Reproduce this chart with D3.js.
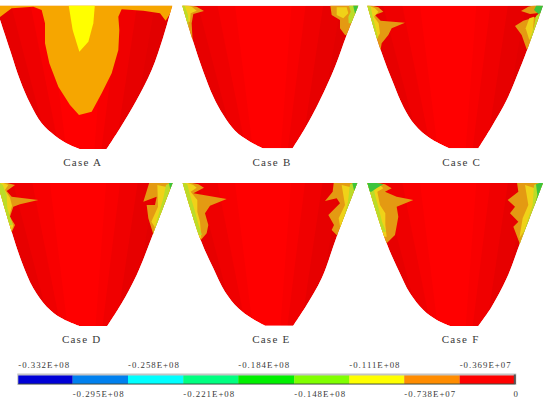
<!DOCTYPE html>
<html>
<head>
<meta charset="utf-8">
<script src="https://cdn.jsdelivr.net/npm/d3@7/dist/d3.min.js"></script>
<style>
html,body{margin:0;padding:0;background:#fff}
svg{display:block}
text{font-family:"Liberation Serif","DejaVu Serif",serif;fill:#3a3a3a}
</style>
</head>
<body>
<script>
// Contour levels of the stress field (Pa) and their colour bands
const levelValues = [-3.32e7,-2.95e7,-2.58e7,-2.21e7,-1.84e7,-1.48e7,-1.11e7,-7.38e6,-3.69e6,0];
const levelLabels = ["-0.332E+08","-0.295E+08","-0.258E+08","-0.221E+08","-0.184E+08","-0.148E+08","-0.111E+08","-0.738E+07","-0.369E+07","0"];
const bandColors = ["#0000d6","#0080ee","#00ffff","#00ff80","#00f000","#80ff00","#ffff00","#ff8c00","#ff0000"];

const caseNames = ["Case A","Case B","Case C","Case D","Case E","Case F"];

// Section outlines in mesh units: left flank down to the flat tip, right flank back up
const flanksLeft = [
  [[-14,17],[30,150],[60,240],[90,310],[125,370],[165,407],[210,435],[240,447]],
  [[7,17],[38,120],[70,215],[100,290],[130,345],[165,392],[210,425],[250,445]],
  [[22,17],[62,150],[100,250],[130,320],[165,375],[210,415],[268,445]],
  [[-8,24],[35,170],[65,260],[100,340],[140,395],[185,430],[237,453]],
  [[8,24],[62,195],[100,280],[135,350],[175,400],[215,430],[255,452]],
  [[22,24],[80,205],[115,285],[150,355],[190,405],[230,435],[270,453]]
];
const flanksRight = [
  [[320,447],[360,385],[410,300],[455,210],[490,110],[517,17]],
  [[338,445],[375,385],[420,300],[465,200],[500,105],[535,17]],
  [[355,445],[395,380],[440,300],[480,205],[505,140],[549,17]],
  [[322,453],[365,385],[410,300],[460,175],[518,24]],
  [[340,452],[380,390],[425,310],[470,185],[532,24]],
  [[355,453],[395,395],[440,310],[480,205],[549,24]]
];

// Mesh shading: [top start, top end, tip start, tip end, darkness] as fractions of section width
const shadeStrips = [
  [0,.09,.22,.3,.17],[.09,.2,.3,.36,.11],[.2,.3,.36,.4,.05],
  [.62,.7,.56,.6,.04],[.7,.8,.6,.68,.1],[.8,.9,.68,.76,.17],[.9,1,.76,.82,.2]
];

// Contour patches per case, as [colour key, polygon] in paint order
const caseAPatches = [
  ["amber",[[-20,10],[-5,55],[15,40],[35,25],[100,20],[125,30],[135,70],[135,130],[148,190],[175,260],[210,315],[237,345],[275,335],[305,280],[335,220],[355,150],[358,90],[355,50],[365,28],[430,32],[480,40],[497,62],[530,10]]],
  ["yellow",[[205,10],[218,90],[238,155],[265,125],[280,70],[285,10]]]
];
const caseBPatches = [
  ["ochre",[[0,10],[50,20],[72,33],[40,42],[35,70],[38,125],[0,125]]],
  ["gold",[[0,10],[35,20],[50,32],[32,40],[30,65],[0,65]]],
  ["lime",[[0,10],[14,17],[24,45],[26,80],[0,80]]],
  ["ochre",[[450,10],[455,45],[480,60],[480,85],[495,105],[545,105],[545,10]]],
  ["gold",[[470,22],[500,22],[505,40],[490,55],[470,45]]],
  ["lime",[[505,10],[545,10],[545,70],[506,70],[505,50],[512,35]]],
  ["green",[[518,10],[545,10],[545,45],[526,45]]]
];
const caseCPatches = [
  ["ochre",[[10,10],[55,22],[70,35],[45,45],[62,62],[135,68],[95,85],[85,105],[65,130],[60,160],[10,160]]],
  ["gold",[[10,10],[45,25],[55,35],[42,50],[56,70],[60,100],[50,118],[10,118]]],
  ["lime",[[10,10],[32,20],[38,50],[46,80],[54,115],[10,115]]],
  ["ochre",[[505,20],[483,33],[510,42],[530,40],[545,10]]],
  ["ochre",[[525,52],[490,62],[465,78],[485,105],[500,148],[560,148],[560,40]]],
  ["gold",[[508,55],[522,50],[518,100],[508,120],[497,85]]],
  ["lime",[[528,48],[560,20],[560,150],[506,150],[512,110],[522,80]]],
  ["green",[[532,10],[560,10],[560,30],[535,42],[522,30]]]
];
const caseDPatches = [
  ["ochre",[[-10,16],[45,30],[20,48],[35,65],[115,75],[60,88],[40,95],[30,125],[45,150],[35,172],[-10,172]]],
  ["gold",[[-10,16],[25,30],[15,45],[30,68],[36,92],[28,122],[40,152],[33,170],[-10,170]]],
  ["lime",[[-10,16],[8,30],[20,60],[22,100],[38,150],[-10,150]]],
  ["ochre",[[450,16],[430,80],[470,65],[465,90],[440,90],[445,130],[460,178],[530,178],[530,16]]],
  ["gold",[[472,30],[500,36],[498,60],[486,110],[470,165],[454,140],[474,95]]],
  ["lime",[[498,30],[530,16],[530,180],[458,180],[478,110],[490,70]]],
  ["green",[[505,16],[530,16],[530,40],[511,44]]]
];
const caseEPatches = [
  ["ochre",[[0,16],[55,28],[72,38],[40,55],[140,72],[90,92],[75,115],[85,150],[80,175],[60,198],[0,198]]],
  ["gold",[[0,16],[40,30],[50,38],[32,50],[52,75],[52,110],[60,140],[64,190],[0,190]]],
  ["lime",[[0,16],[22,28],[30,60],[42,100],[56,150],[66,180],[0,180]]],
  ["ochre",[[462,16],[458,50],[435,78],[470,70],[480,85],[445,120],[462,150],[455,165],[475,185],[540,185],[540,16]]],
  ["gold",[[485,30],[510,36],[505,90],[482,165],[476,130],[495,90]]],
  ["lime",[[510,28],[540,16],[540,190],[470,190],[492,125],[504,80]]],
  ["green",[[515,16],[540,16],[540,46],[522,46]]]
];
const caseFPatches = [
  ["ochre",[[10,16],[75,28],[95,40],[75,50],[110,65],[160,75],[110,95],[115,125],[105,180],[80,205],[10,205]]],
  ["gold",[[10,16],[60,30],[70,40],[52,50],[60,90],[76,115],[76,150],[80,185],[10,185]]],
  ["lime",[[10,16],[40,32],[44,55],[56,100],[66,140],[78,170],[10,170]]],
  ["green",[[10,16],[70,28],[52,38],[34,50],[10,50]]],
  ["ochre",[[470,16],[475,50],[443,75],[465,95],[450,115],[475,140],[460,155],[480,208],[560,208],[560,16]]],
  ["gold",[[495,30],[525,40],[520,90],[495,165],[478,190],[488,130],[505,90]]],
  ["lime",[[522,30],[560,16],[560,208],[478,208],[505,130],[518,90]]],
  ["green",[[528,28],[560,16],[560,80],[520,110],[532,60]]]
];
const casePatches = [caseAPatches,caseBPatches,caseCPatches,caseDPatches,caseEPatches,caseFPatches];

const patchColors = {amber:"#f6a600",yellow:"#ffff00",ochre:"#e49a12",gold:"#f0d218",lime:"#bcdc28",green:"#3cc43c"};

const width = 543, height = 403;
const svg = d3.select("body").append("svg").attr("width",width).attr("height",height);
svg.append("rect").attr("width",width).attr("height",height).attr("fill","#fff");

const defs = svg.append("defs");

// Panels sit on a 3 × 2 grid; every panel maps its mesh units to the page with its own scales
const column = d3.scaleBand().domain([0,1,2]).range([0,540]);
const row = d3.scalePoint().domain([0,1]).range([0,175]);
const smooth = d3.line().curve(d3.curveCatmullRom.alpha(.5));
const captionCentres = [248,276,305,245,274,302];

caseNames.forEach((name,i)=>{
  const ox = column(i%3), oy = row(Math.floor(i/3));
  const x = d3.scaleLinear().domain([0,3]).range([ox,ox+1]);
  const y = d3.scaleLinear().domain([0,3]).range([oy,oy+1]);
  const toPage = p=>[x(p[0]),y(p[1])];
  const polygon = pts=>"M"+pts.map(toPage).map(p=>p.join(",")).join("L")+"Z";

  const left = flanksLeft[i], right = flanksRight[i];
  const outline = smooth(left.map(toPage))+"L"+smooth(right.map(toPage)).slice(1)+"Z";

  defs.append("clipPath").attr("id","section"+i).append("path").attr("d",outline);
  const g = svg.append("g").attr("clip-path",`url(#section${i})`);

  g.append("path").attr("d",outline).attr("fill","#ff0000");

  // Fan of mesh facets converging on the flat tip
  const topY = left[0][1], tipY = left[left.length-1][1];
  const topL = left[0][0], topR = right[right.length-1][0];
  const across = d3.scaleLinear().domain([0,1]).range([topL,topR]);
  g.selectAll(".strip").data(shadeStrips).join("path")
    .attr("d",s=>polygon([[across(s[0]),topY],[across(s[1]),topY],[across(s[3]),tipY],[across(s[2]),tipY]]))
    .attr("fill","#700000").attr("fill-opacity",s=>s[4]);

  g.selectAll(".patch").data(casePatches[i]).join("path")
    .attr("d",p=>polygon(p[1])).attr("fill",p=>patchColors[p[0]]);

  svg.append("text")
    .attr("x",x(captionCentres[i]))
    .attr("y",y(i<3?497:503))
    .attr("text-anchor","middle")
    .attr("font-size",11).attr("letter-spacing",1.25)
    .text(name);
});

// Colour bar with staggered level labels
const bar = d3.scaleLinear().domain(d3.extent(levelValues)).range([18.3,515.3]);
const barTicks = [18.3,72.7,128,183.3,238.3,294.3,349.3,404.3,459.7,515.3];
const barPos = d3.scaleLinear().domain(levelValues).range(barTicks);
const barTop = 375.5, barBottom = 384;

svg.append("rect").attr("x",bar.range()[0]-1).attr("y",barTop-2).attr("width",bar.range()[1]-bar.range()[0]+2).attr("height",barBottom-barTop+3).attr("fill","#c4c4c4");
svg.selectAll(".band").data(bandColors).join("rect")
  .attr("x",(c,k)=>barPos(levelValues[k]))
  .attr("width",(c,k)=>barPos(levelValues[k+1])-barPos(levelValues[k]))
  .attr("y",barTop).attr("height",barBottom-barTop).attr("fill",c=>c);
svg.append("rect").attr("x",bar.range()[0]).attr("y",barBottom-.6).attr("width",bar.range()[1]-bar.range()[0]).attr("height",1).attr("fill","#3a4a3a").attr("fill-opacity",.75);
svg.append("rect").attr("x",bar.range()[1]-1.5).attr("y",barTop-1).attr("width",2).attr("height",barBottom-barTop+1).attr("fill","#555");

svg.selectAll(".lvl").data(levelLabels).join("text")
  .attr("x",(t,k)=>k===levelLabels.length-1?barPos(levelValues[k])+1:barPos(levelValues[k]))
  .attr("y",(t,k)=>k%2===0?367.8:397)
  .attr("text-anchor",(t,k)=>k===levelLabels.length-1?"middle":"start")
  .attr("font-size",8.8).attr("letter-spacing",1)
  .text(t=>t);
</script>
</body>
</html>
